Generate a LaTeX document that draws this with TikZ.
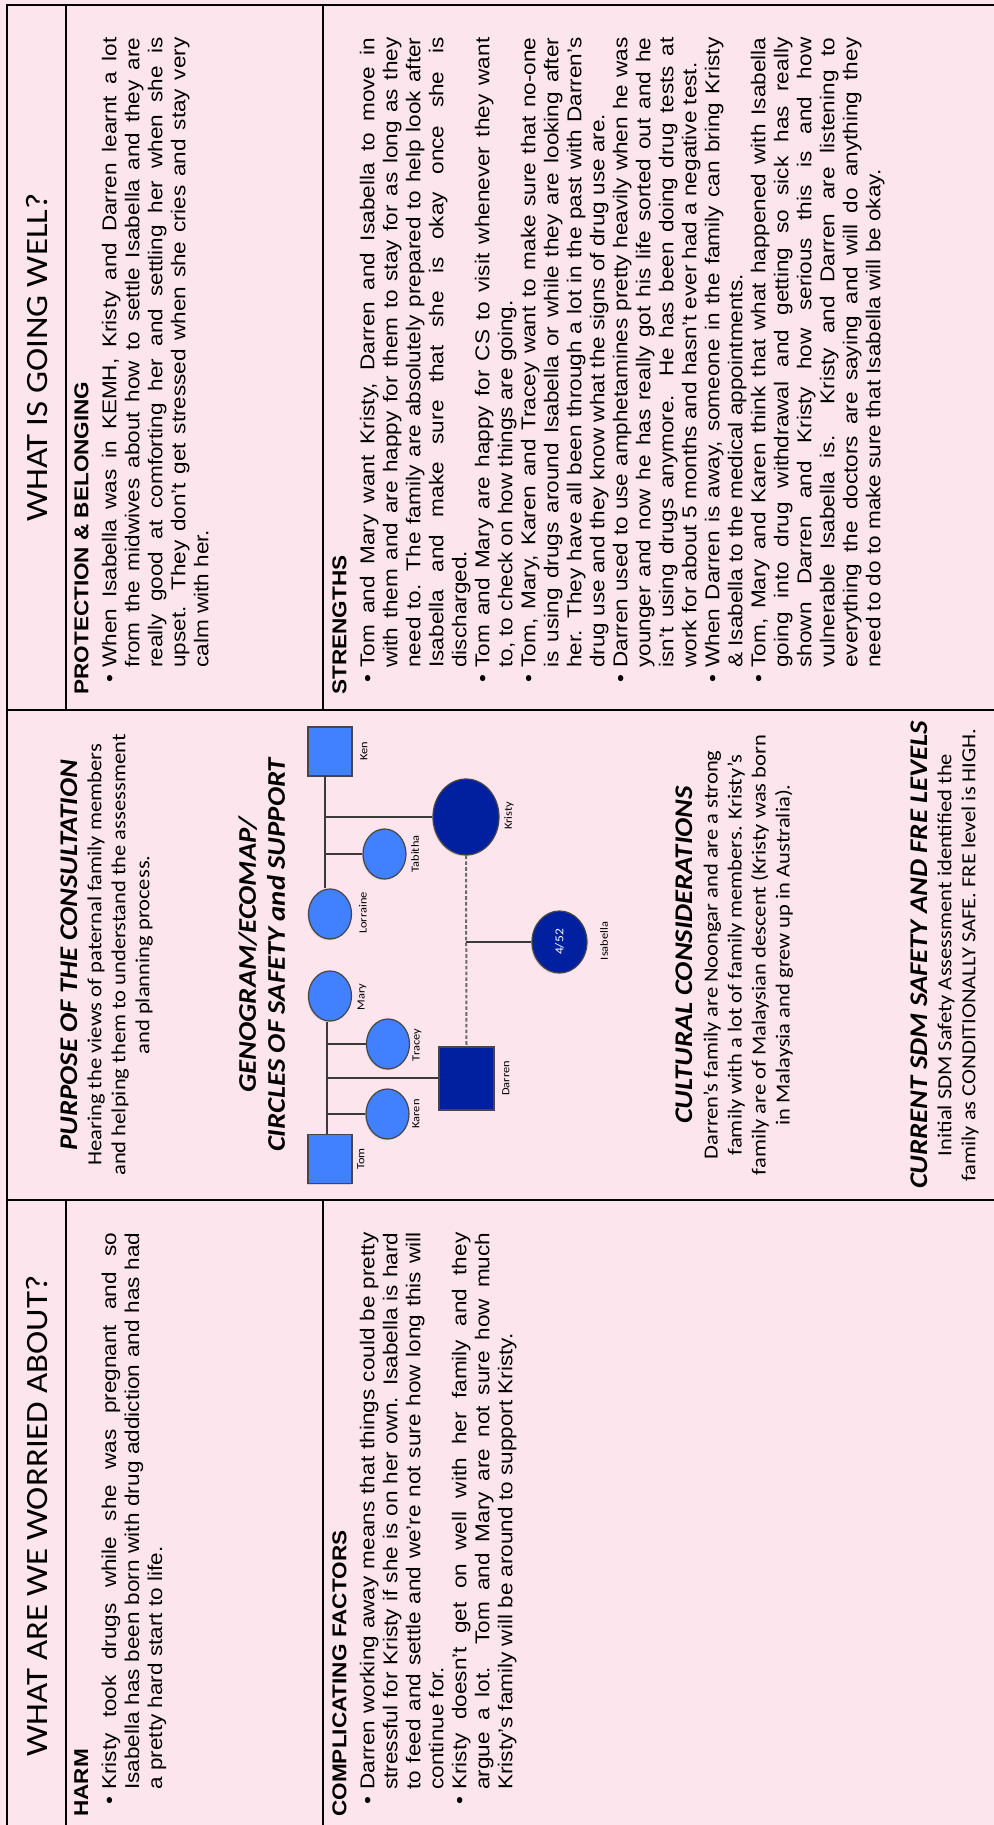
\documentclass[tikz,border=0pt]{standalone}
\usepackage{fontspec}
\setmainfont{Liberation Sans}[FakeStretch=1.127]
\newfontfamily\calfont{Carlito}[FakeStretch=1.127]
\usetikzlibrary{shapes.geometric,shadows}

\definecolor{cellpink}{RGB}{252,229,237}
\definecolor{paleblue}{RGB}{65,128,255}
\definecolor{deepblue}{RGB}{0,32,160}
\definecolor{tiegray}{RGB}{58,58,58}
\definecolor{edgegray}{RGB}{70,70,70}

\tolerance=9999
\emergencystretch=1em
\hyphenpenalty=10000
\exhyphenpenalty=10000

\newcommand\sechead[1]{\noindent{\fontsize{10}{12}\selectfont\bfseries #1}\par\vspace{2.5pt}}
\newcommand\bitem[1]{\hangindent=13.5pt\hangafter=1\noindent
  \hbox to 13.5pt{\hspace{6pt}\textbullet\hfil}#1\par}

\begin{document}
\begin{tikzpicture}[x=0.5pt, y=0.5pt, rotate=90, transform shape,
    rule/.style={line width=0.75pt},
    headtext/.style={font=\calfont\fontsize{15.5}{18}\selectfont, inner sep=0pt},
    sect/.style={anchor=north west, inner sep=0pt, align=justify,
      font=\fontsize{10}{11.5}\selectfont},
    midhead/.style={font=\calfont\fontsize{12.7}{14.5}\selectfont\bfseries\itshape,
      inner sep=0pt, align=center},
    midtext/.style={font=\calfont\fontsize{10}{12}\selectfont,
      inner sep=0pt, align=center},
    person/.style={draw=edgegray, line width=0.6pt, inner sep=0pt,
      drop shadow={opacity=0.25, shadow xshift=-0.5pt, shadow yshift=-0.6pt}},
    male/.style={person, rectangle, fill=paleblue,
      minimum width=24.5pt, minimum height=22pt},
    female/.style={person, ellipse, fill=paleblue,
      minimum width=25pt, minimum height=21.5pt},
    tie/.style={draw=tiegray, line width=1pt},
    partnertie/.style={tie, draw=tiegray!75, dash pattern=on 1.8pt off 1.1pt},
    personlabel/.style={font=\calfont\fontsize{5.5}{6.5}\selectfont, inner sep=0pt}]

  % page drawn landscape, turned by rotate=90
  \useasboundingbox (0,0) rectangle (1825,-994);
  \fill[cellpink] (0,0) rectangle (1825,-994);
  \draw[rule] (0,-7) -- (1820,-7) -- (1820,-994);
  \draw[rule] (625,-7) -- (625,-994);
  \draw[rule] (1115,-7) -- (1115,-994);
  \draw[rule] (0,-66) -- (625,-66);
  \draw[rule] (1115,-66) -- (1820,-66);
  \draw[rule] (0,-323) -- (625,-323);
  \draw[rule] (1115,-323) -- (1820,-323);

  \node[headtext] (worried) at (309,-37) {WHAT ARE WE WORRIED ABOUT?};
  \node[headtext] (goingwell) at (1467.5,-37) {WHAT IS GOING WELL?};

  \node[sect, text width=292pt] (harm) at (8,-74) {%
    \sechead{HARM}%
    \bitem{Kristy took drugs while she was pregnant and so\linebreak
      Isabella has been born with drug addiction and has had\linebreak
      a pretty hard start to life.}};

  \node[sect, text width=292pt] (complicating) at (8,-332) {%
    \sechead{COMPLICATING FACTORS}%
    \bitem{Darren working away means that things could be pretty\linebreak
      stressful for Kristy if she is on her own. Isabella is hard\linebreak
      to feed and settle and we’re not sure how long this will\linebreak
      continue for.}%
    \bitem{Kristy doesn’t get on well with her family and they\linebreak
      argue a lot. Tom and Mary are not sure how much\linebreak
      Kristy’s family will be around to support Kristy.}};

  \node[sect, text width=328.5pt] (protection) at (1130,-74) {%
    \sechead{PROTECTION \& BELONGING}%
    \bitem{When Isabella was in KEMH, Kristy and Darren learnt a lot\linebreak
      from the midwives about how to settle Isabella and they are\linebreak
      really good at comforting her and settling her when she is\linebreak
      upset. They don’t get stressed when she cries and stay very\linebreak
      calm with her.}};

  \node[sect, text width=328.5pt] (strengths) at (1130,-332) {%
    \sechead{STRENGTHS}%
    \bitem{Tom and Mary want Kristy, Darren and Isabella to move in\linebreak
      with them and are happy for them to stay for as long as they\linebreak
      need to. The family are absolutely prepared to help look after\linebreak
      Isabella and make sure that she is okay once she is\linebreak
      discharged.}%
    \bitem{Tom and Mary are happy for CS to visit whenever they want\linebreak
      to, to check on how things are going.}%
    \bitem{Tom, Mary, Karen and Tracey want to make sure that no-one\linebreak
      is using drugs around Isabella or while they are looking after\linebreak
      her. They have all been through a lot in the past with Darren’s\linebreak
      drug use and they know what the signs of drug use are.}%
    \bitem{Darren used to use amphetamines pretty heavily when he was\linebreak
      younger and now he has really got his life sorted out and he\linebreak
      isn’t using drugs anymore. He has been doing drug tests at\linebreak
      work for about 5 months and hasn’t ever had a negative test.}%
    \bitem{When Darren is away, someone in the family can bring Kristy\linebreak
      \& Isabella to the medical appointments.}%
    \bitem{Tom, Mary and Karen think that what happened with Isabella\linebreak
      going into drug withdrawal and getting so sick has really\linebreak
      shown Darren and Kristy how serious this is and how\linebreak
      vulnerable Isabella is. Kristy and Darren are listening to\linebreak
      everything the doctors are saying and will do anything they\linebreak
      need to do to make sure that Isabella will be okay.}};

  \node[midhead, anchor=north] (purposehead) at (870,-60) {PURPOSE OF THE CONSULTATION};
  \node[midtext, anchor=north] (purposetext) at (870,-87) {Hearing the views of paternal family members\\
    and helping them to understand the assessment\\and planning process.};
  \node[midhead, anchor=north] (genotitle) at (870,-238) {GENOGRAM/ECOMAP/\\
    CIRCLES OF SAFETY and SUPPORT};
  \node[midhead, anchor=north] (culturehead) at (870,-675) {CULTURAL CONSIDERATIONS};
  \node[midtext, anchor=north] (culturetext) at (870,-703) {Darren’s family are Noongar and are a strong\\
    family with a lot of family members. Kristy’s\\
    family are of Malaysian descent (Kristy was born\\
    in Malaysia and grew up in Australia).};
  \node[midhead, anchor=north] (sdmhead) at (870,-910) {CURRENT SDM SAFETY AND FRE LEVELS};
  \node[midtext, anchor=north] (sdmtext) at (870,-937) {Initial SDM Safety Assessment identified the\\
    family as CONDITIONALLY SAFE. FRE level is HIGH.};

  % genogram
  \node[male] (ken) at (1073.5,-330) {};
  \node[female] (lorraine) at (911,-330) {};
  \node[female] (tabitha) at (971,-384.5) {};
  \node[female, fill=deepblue, minimum width=38pt, minimum height=33pt] (kristy) at (1008,-466) {};
  \node[male] (tom) at (666,-330) {};
  \node[female] (mary) at (829,-330) {};
  \node[female] (tracey) at (781,-388) {};
  \node[female] (karen) at (711,-387.5) {};
  \node[male, fill=deepblue, minimum width=31.5pt, minimum height=27.5pt] (darren) at (746.5,-466.5) {};
  \node[female, fill=deepblue, minimum width=31pt, minimum height=27.5pt, text=white,
    font=\calfont\fontsize{6}{7}\selectfont] (isabella) at (883,-559.5) {4/52};

  \node[personlabel] (kenname) at (1073.5,-364) {Ken};
  \node[personlabel] (lorrainename) at (912,-363) {Lorraine};
  \node[personlabel] (tabithaname) at (971,-415) {Tabitha};
  \node[personlabel] (kristyname) at (1009,-509) {Kristy};
  \node[personlabel] (tomname) at (666,-361) {Tom};
  \node[personlabel] (maryname) at (828,-362) {Mary};
  \node[personlabel] (traceyname) at (780,-417) {Tracey};
  \node[personlabel] (karenname) at (711,-416) {Karen};
  \node[personlabel] (darrenname) at (746.5,-506) {Darren};
  \node[personlabel] (isabellaname) at (884,-604) {Isabella};

  \coordinate (kl) at (1049,-325);
  \draw[tie] (kl) -- (kl -| lorraine.east);
  \draw[tie] (tabitha.north) -- (tabitha.north |- kl);
  \draw[tie] (kristy.north) -- (kristy.north |- kl);
  \coordinate (tm) at (691,-327);
  \draw[tie] (tm) -- (tm -| mary.west);
  \draw[tie] (tracey.north) -- (tracey.north |- tm);
  \draw[tie] (darren.north) -- (darren.north |- tm);
  \draw[tie] (karen.north) -- (karen.north |- tm);
  \draw[partnertie] (kristy.west) -- (darren.east);
  \coordinate (isaj) at (isabella.north |- kristy.west);
  \draw[tie] (isabella.north) -- (isaj);
\end{tikzpicture}
\end{document}
